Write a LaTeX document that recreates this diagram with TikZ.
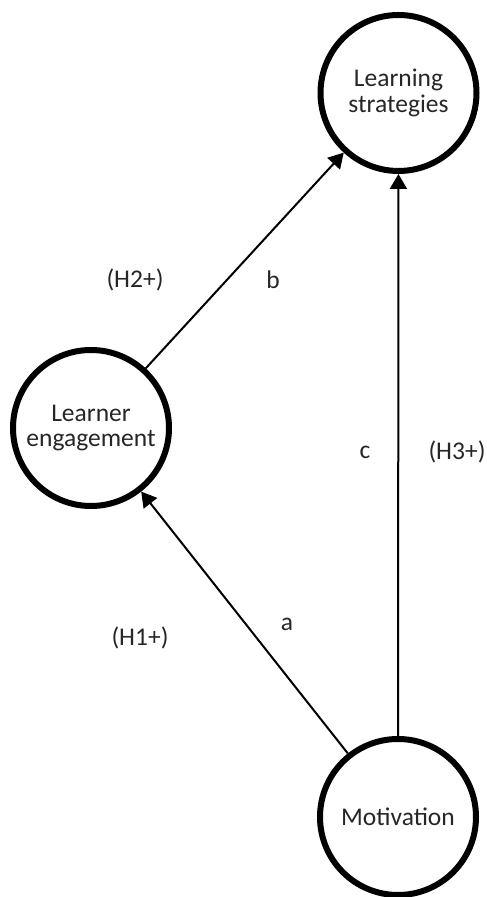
\documentclass[tikz,border=0pt]{standalone}
\usepackage{fontspec}
\setmainfont{Carlito}
\usepackage{tikz}
\usetikzlibrary{arrows.meta}
\definecolor{Ink}{HTML}{262626}

\begin{document}
\begin{tikzpicture}[x=1pt,y=1pt,
    construct/.style={circle,draw=black,line width=6pt,minimum size=156pt,inner sep=0pt,align=center,text=Ink,font=\fontsize{25.5}{25.5}\selectfont},
    link/.style={draw=black,line width=2pt,-{Triangle[length=15pt,width=17pt]}},
    tag/.style={text=Ink,font=\fontsize{25.5}{28}\selectfont}]
    \useasboundingbox (0,0) rectangle (487,897);

    \node[construct] (strat) at (398.5,804) {Learning\\strategies};
    \node[construct] (engage) at (91,469) {Learner\\engagement};
    \node[construct] (motiv) at (398,80) {Motivation};

    \draw[link] (motiv) -- (engage);
    \draw[link] (engage) -- (strat);
    \draw[link] (motiv) -- (strat);

    \node[tag] (h2) at (135,617) {(H2+)};
    \node[tag] (lb) at (273,617) {b};
    \node[tag] (lc) at (365,445) {c};
    \node[tag] (h3) at (457,445) {(H3+)};
    \node[tag] (h1) at (140,259) {(H1+)};
    \node[tag] (la) at (287,273) {a};
  \end{tikzpicture}
\end{document}
